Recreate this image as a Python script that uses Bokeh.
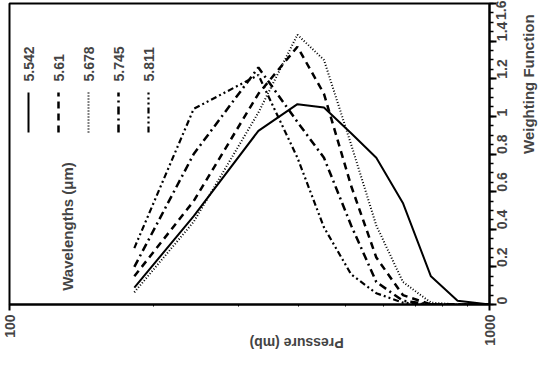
import math
from bokeh.plotting import figure
from bokeh.models import FixedTicker, Label, Arrow, CustomJSTickFormatter
from bokeh.embed import file_html
from bokeh.resources import INLINE

# ---- data ----
pressure = [182, 242, 330, 398, 452, 515, 581, 660, 755, 858, 1000]
w_5542 = [0.09, 0.47, 0.923, 1.065, 1.047, 0.91, 0.78, 0.54, 0.15, 0.02, 0.0]
w_5610 = [0.15, 0.55, 1.12, 1.37, 1.12, 0.63, 0.25, 0.05, 0.0, 0.0, 0.0]
w_5678 = [0.065, 0.44, 1.02, 1.434, 1.30, 0.85, 0.42, 0.12, 0.01, 0.0, 0.0]
w_5745 = [0.20, 0.80, 1.26, 0.97, 0.78, 0.42, 0.12, 0.02, 0.0, 0.0, 0.0]
w_5811 = [0.30, 1.04, 1.22, 0.78, 0.41, 0.16, 0.06, 0.01, 0.0, 0.0, 0.0]
wavelengths = ["5.542", "5.61", "5.678", "5.745", "5.811"]
series = [w_5542, w_5610, w_5678, w_5745, w_5811]
dashes = ["solid", "7 5", "1 2", "8 4 2 4", "6 3 2 3 2 3"]
widths = [2, 2.5, 2, 2.5, 2.2]
x_ticks = [100, 1000]
x_minor = [200, 300, 400, 500, 600, 700, 800, 900]
y_ticks = [0, 0.2, 0.4, 0.6, 0.8, 1.0, 1.2, 1.4, 1.6]
y_minor = [round(0.05 * i, 2) for i in range(33)]

FONT = "Liberation Sans"

p = figure(width=550, height=365, x_axis_type="log", x_range=(100, 1000),
           y_range=(0, 1.6), y_axis_location="right",
           output_backend="svg", toolbar_location=None,
           min_border_left=9, min_border_top=3, min_border_right=61,
           min_border_bottom=61)
p.grid.visible = False
p.outline_line_color = "black"
p.outline_line_width = 2
p.background_fill_color = "white"
p.border_fill_color = "white"

for w, d, lw in zip(series, dashes, widths):
    p.line(pressure, w, line_color="black", line_width=lw, line_dash=d)

fmt = CustomJSTickFormatter(code="return String(tick);")

xa = p.xaxis[0]
xa.ticker = FixedTicker(ticks=x_ticks, minor_ticks=x_minor)
xa.formatter = fmt
xa.major_label_orientation = math.pi / 2
xa.major_tick_out = 6
xa.major_tick_in = 0
xa.minor_tick_out = 2
xa.minor_tick_in = 0
xa.axis_line_width = 2
xa.major_tick_line_width = 2
xa.major_label_standoff = 4
xa.major_label_text_font = FONT
xa.major_label_text_font_style = "bold"
xa.major_label_text_font_size = "14px"
xa.axis_label = "Pressure (mb)"
xa.axis_label_orientation = math.pi
xa.axis_label_standoff = -6
xa.axis_label_text_font = FONT
xa.axis_label_text_font_style = "bold"
xa.axis_label_text_font_size = "14px"

ya = p.yaxis[0]
ya.ticker = FixedTicker(ticks=y_ticks, minor_ticks=y_minor)
ya.formatter = fmt
ya.major_label_orientation = math.pi / 2
ya.major_tick_out = 7
ya.major_tick_in = 0
ya.minor_tick_out = 4
ya.minor_tick_in = 0
ya.axis_line_width = 2
ya.major_tick_line_width = 2
ya.minor_tick_line_width = 1.5
ya.major_label_standoff = 5
ya.major_label_text_font = FONT
ya.major_label_text_font_style = "bold"
ya.major_label_text_font_size = "14px"
ya.axis_label = "Weighting Function"
ya.axis_label_orientation = math.pi / 2
ya.axis_label_standoff = 14
ya.axis_label_text_font = FONT
ya.axis_label_text_font_style = "bold"
ya.axis_label_text_font_size = "15px"

# ---- custom rotated legend (screen units relative to frame) ----
leg_x0, leg_dx = 19, 30
for i, (name, d, lw) in enumerate(zip(wavelengths, dashes, widths)):
    x = leg_x0 + i * leg_dx
    p.add_layout(Label(x=x, y=223, x_units="screen", y_units="screen",
                       text=name, angle=math.pi / 2, text_align="left",
                       text_baseline="middle", text_font=FONT,
                       text_font_style="bold", text_font_size="14px"))
    p.add_layout(Arrow(x_start=x, y_start=172, x_end=x, y_end=212,
                       start_units="screen", end_units="screen", end=None,
                       line_color="black", line_width=lw, line_dash=d))
p.add_layout(Label(x=58, y=78, x_units="screen", y_units="screen",
                   text="Wavelengths (\u03bcm)", angle=math.pi / 2,
                   text_align="center", text_baseline="middle",
                   text_font=FONT, text_font_style="bold",
                   text_font_size="15px"))

open("out.html", "w").write(file_html(p, INLINE))
